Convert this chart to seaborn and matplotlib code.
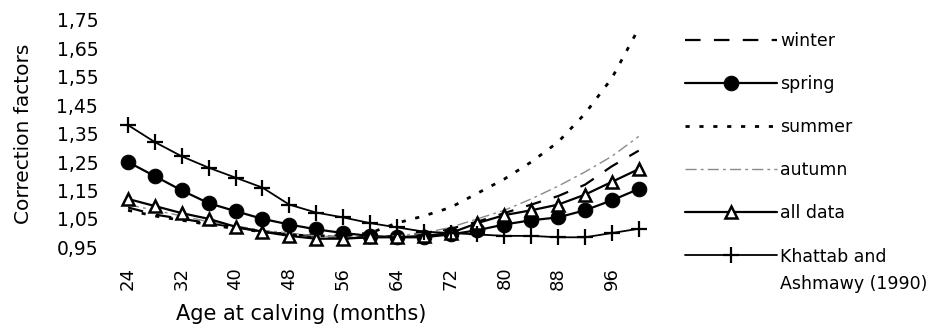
import matplotlib
matplotlib.use("Agg")
import matplotlib.pyplot as plt
import seaborn as sns
import pandas as pd

# age at calving (months), one point every 4 months
months = [24, 28, 32, 36, 40, 44, 48, 52, 56, 60, 64, 68, 72, 76, 80, 84, 88, 92, 96, 100]

winter = [1.09, 1.065, 1.05, 1.035, 1.02, 1.005, 0.995, 0.99, 0.985, 0.985,
          0.99, 1.0, 1.015, 1.04, 1.07, 1.10, 1.13, 1.17, 1.235, 1.29]
spring = [1.25, 1.20, 1.15, 1.105, 1.077, 1.05, 1.03, 1.013, 1.0, 0.99,
          0.985, 0.985, 0.995, 1.01, 1.03, 1.045, 1.055, 1.08, 1.115, 1.155]
summer = [1.08, 1.06, 1.045, 1.03, 1.015, 1.005, 0.995, 0.99, 0.99, 1.0,
          1.035, 1.06, 1.09, 1.14, 1.19, 1.25, 1.32, 1.42, 1.545, 1.72]
autumn = [1.10, 1.08, 1.06, 1.04, 1.025, 1.01, 1.0, 0.99, 0.985, 0.985,
          0.99, 1.0, 1.02, 1.05, 1.08, 1.12, 1.165, 1.215, 1.27, 1.34]
all_data = [1.12, 1.095, 1.07, 1.05, 1.022, 1.005, 0.99, 0.98, 0.98, 0.985,
            0.985, 0.99, 1.0, 1.035, 1.063, 1.08, 1.10, 1.135, 1.18, 1.225]
khattab = [1.38, 1.32, 1.27, 1.23, 1.195, 1.16, 1.10, 1.072, 1.055, 1.035,
           1.02, 1.005, 1.0, 0.995, 0.99, 0.99, 0.985, 0.985, 1.0, 1.015]

x_ticks = [24, 32, 40, 48, 56, 64, 72, 80, 88, 96]
y_ticks = [0.95, 1.05, 1.15, 1.25, 1.35, 1.45, 1.55, 1.65, 1.75]
y_tick_labels = ["0,95", "1,05", "1,15", "1,25", "1,35", "1,45", "1,55", "1,65", "1,75"]

sns.set_style("white")
plt.rcParams["font.family"] = ["DejaVu Sans"]
plt.rcParams["text.color"] = "black"
plt.rcParams["axes.labelcolor"] = "black"
plt.rcParams["xtick.color"] = "black"
plt.rcParams["ytick.color"] = "black"

fig = plt.figure(figsize=(9.38, 3.33), dpi=100)
ax = fig.add_axes([0.115, 0.2405, 0.5874, 0.7165])

# seaborn defaults marker edges to white, so set them explicitly
series = [
    ("winter", winter, dict(color="black", lw=1.6, linestyle=(0, (7, 6)))),
    ("spring", spring, dict(color="black", lw=1.6, marker="o", markersize=10.5,
                            markerfacecolor="black", markeredgecolor="black")),
    ("summer", summer, dict(color="black", lw=2.0, linestyle=(0, (1.5, 3.5)))),
    ("autumn", autumn, dict(color="#8a8a8a", lw=1.0, linestyle=(0, (8, 3, 2, 3)))),
    ("all data", all_data, dict(color="black", lw=1.6, marker="^", markersize=9,
                                markerfacecolor="white", markeredgecolor="black",
                                markeredgewidth=1.8)),
    ("Khattab and", khattab, dict(color="black", lw=1.3, marker="+",
                                  markersize=12, markeredgewidth=1.6,
                                  markeredgecolor="black")),
]

for name, values, style in series:
    df = pd.DataFrame({"month": months, "factor": values})
    sns.lineplot(data=df, x="month", y="factor", ax=ax, label=name, **style)

ax.set_xlim(21, 103)
ax.set_ylim(0.93, 1.77)
ax.set_xticks(x_ticks)
ax.set_xticklabels([str(t) for t in x_ticks], rotation=90, fontsize=13)
ax.set_yticks(y_ticks)
ax.set_yticklabels(y_tick_labels, fontsize=13.5)
ax.tick_params(axis="both", length=0)
ax.tick_params(axis="y", pad=7)
ax.tick_params(axis="x", pad=10)
sns.despine(ax=ax, left=True, bottom=True)

ax.set_xlabel("Age at calving (months)", fontsize=15)
ax.set_ylabel("Correction factors", fontsize=14.5)
ax.xaxis.set_label_coords(0.351, -0.215)
ax.yaxis.set_label_coords(-0.136, 0.50)

ax.get_legend().remove()
handles, labels = ax.get_legend_handles_labels()
leg = fig.legend(handles, labels, loc="upper left", bbox_to_anchor=(0.730, 0.905),
                 frameon=False, fontsize=12.5, handlelength=5.3, handletextpad=0.2,
                 labelspacing=1.45, borderpad=0, borderaxespad=0)

# second line of the last label sits under the first, handle stays on line one
fig.canvas.draw()
last = leg.get_texts()[-1].get_window_extent()
x0, y0 = fig.transFigure.inverted().transform((last.x0, last.y0))
fig.text(x0, y0 - 0.03, "Ashmawy (1990)", fontsize=12.5, ha="left", va="top")

fig.savefig("out.png", dpi=100)
